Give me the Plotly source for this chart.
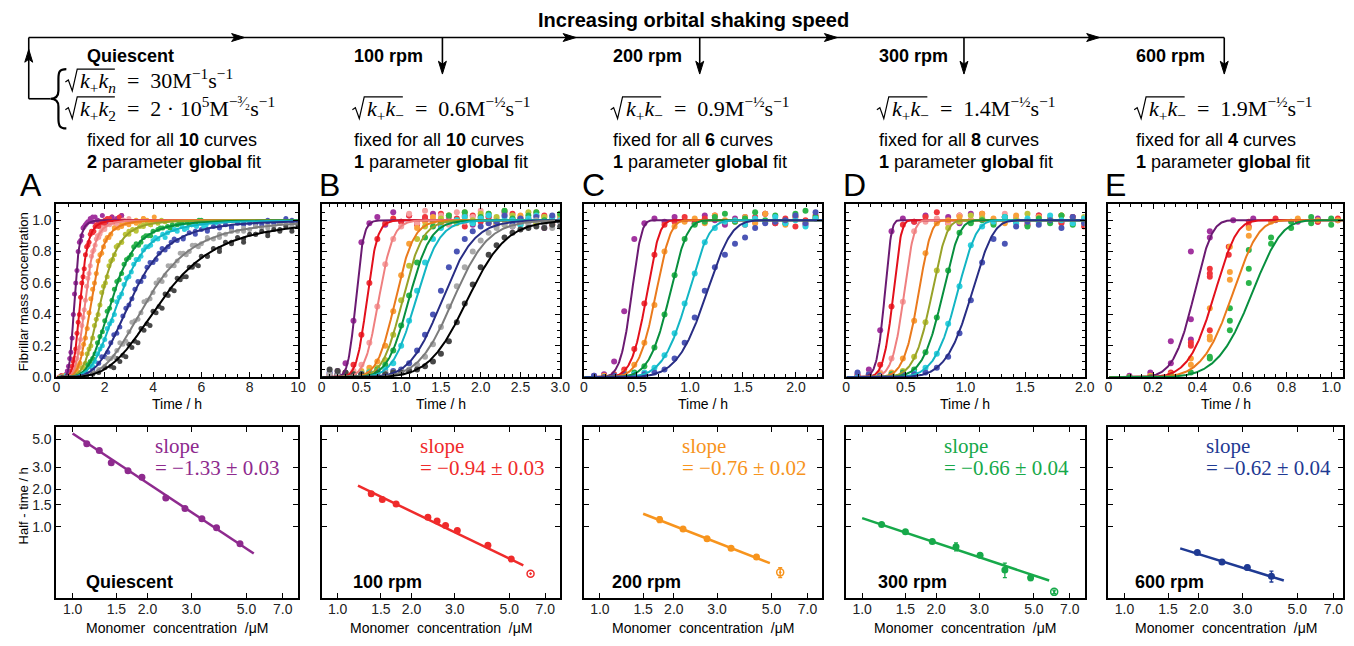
import plotly.graph_objects as go

W, H = 1354, 646
SANS = "Liberation Sans, Arial, sans-serif"
SERIF = "Liberation Serif, DejaVu Serif, serif"

# ================= top row: fitted curves (half-time /h, steepness, shape) =================
A_KEYS = ["purple", "red", "pink", "orange", "olive", "green", "cyan", "blue", "gray", "black"]
A_T50 = [0.75, 1.0, 1.2, 1.45, 1.85, 2.3, 2.6, 3.1, 3.8, 4.4]
A_N = [7.0, 6.5, 6.0, 5.5, 5.0, 4.5, 4.3, 4.1, 3.9, 3.7]
A_NU = 1.0

B_KEYS = ["purple", "red", "pink", "orange", "olive", "green", "cyan", "blue", "gray", "black"]
B_T50 = [0.43, 0.57, 0.72, 0.93, 1.02, 1.10, 1.19, 1.52, 1.66, 1.84]
B_N = [7.7, 7.5, 7.0, 7.0, 7.0, 7.0, 7.0, 6.5, 6.5, 6.5]
B_NU = 0.5

C_KEYS = ["purple", "red", "orange", "green", "cyan", "blue"]
C_T50 = [0.445, 0.585, 0.67, 0.80, 0.97, 1.14]
C_N = [6.6, 6.6, 6.6, 6.6, 6.6, 6.6]
C_NU = 0.05

D_KEYS = ["purple", "red", "pink", "orange", "olive", "green", "cyan", "blue"]
D_T50 = [0.32, 0.39, 0.48, 0.60, 0.71, 0.80, 0.92, 1.04]
D_N = [7.7, 7.7, 7.7, 7.7, 7.7, 7.7, 7.7, 7.7]
D_NU = 0.05

E_KEYS = ["purple", "red", "orange", "green"]
E_T50 = [0.38, 0.47, 0.55, 0.635]
E_N = [6.5, 6.5, 6.5, 6.5]
E_NU = 0.05

# ================= top row: measured points (time /h, fibrillar mass fraction) =================
TIME_01 = [0.1, 0.2, 0.3, 0.4, 0.5, 0.6, 0.7, 0.8, 0.9, 1.0, 1.1, 1.2, 1.3, 1.4, 1.5, 1.6, 1.7, 1.8, 1.9,
           2.0, 2.1, 2.2, 2.3, 2.4, 2.5, 2.6, 2.7, 2.8, 2.9, 3.0]
TIME_015 = [0.15, 0.3, 0.45, 0.6, 0.75, 0.9, 1.05, 1.2, 1.35, 1.5, 1.65, 1.8, 1.95, 2.1, 2.25, 2.4, 2.55,
            2.7, 2.85, 3.0, 3.15, 3.3, 3.45, 3.6, 3.75, 3.9, 4.05, 4.2, 4.35, 4.5]
TIME_02 = [0.2, 0.4, 0.6, 0.8, 1.0, 1.2, 1.4, 1.6, 1.8, 2.0, 2.2, 2.4, 2.6, 2.8, 3.0, 3.2, 3.4, 3.6, 3.8,
           4.0, 4.2, 4.4, 4.6, 4.8, 5.0, 5.2, 5.4, 5.6, 5.8, 6.0, 6.2, 6.4, 6.6]
TIME_025 = [0.25, 0.5, 0.75, 1.0, 1.25, 1.5, 1.75, 2.0, 2.25, 2.5, 2.75, 3.0, 3.25, 3.5, 3.75, 4.0, 4.25,
            4.5, 4.75, 5.0, 5.25, 5.5, 5.75, 6.0, 6.25, 6.5, 6.75, 7.0, 7.25, 7.5, 7.75, 8.0, 8.25, 8.5,
            8.75, 9.0, 9.25, 9.5, 9.75, 10.0]
TIME_095 = [0.095, 0.19, 0.285, 0.38, 0.475, 0.57, 0.665, 0.76, 0.855, 0.95, 1.045, 1.14, 1.235, 1.33,
            1.425, 1.52, 1.615, 1.71, 1.805, 1.9, 1.995, 2.09, 2.185]

A_TIMES = [TIME_01, TIME_01, TIME_01, TIME_015, TIME_015, TIME_02, TIME_02, TIME_025, TIME_025, TIME_025]
A_VALS = [
    [0.00, 0.01, 0.01, 0.02, 0.07, 0.16, 0.40, 0.60, 0.80, 0.87, 0.95, 0.97, 0.99, 1.01, 0.99, 1.02, 1.00, 0.98],
    [0.00, 0.01, 0.00, 0.01, 0.02, 0.04, 0.10, 0.18, 0.35, 0.51, 0.64, 0.78, 0.84, 0.91, 0.92, 0.96, 0.97,
     0.99, 0.98, 1.00, 1.01, 0.99, 1.02, 1.00, 0.99, 1.01, 1.03],
    [0.00, 0.00, 0.01, 0.00, 0.01, 0.02, 0.04, 0.08, 0.16, 0.24, 0.38, 0.49, 0.63, 0.71, 0.80, 0.84, 0.90,
     0.91, 0.95, 0.95, 0.97, 0.97, 0.99, 0.98, 1.00, 0.99, 1.01, 1.00, 0.98, 1.01],
    [0.00, 0.01, 0.00, 0.01, 0.03, 0.07, 0.15, 0.25, 0.41, 0.56, 0.66, 0.78, 0.83, 0.89, 0.91, 0.95, 0.95,
     0.97, 0.98, 0.97, 0.99, 1.00, 0.99, 1.01, 1.00, 0.99, 1.02],
    [0.00, 0.00, 0.01, 0.00, 0.01, 0.03, 0.06, 0.09, 0.18, 0.25, 0.37, 0.46, 0.58, 0.64, 0.74, 0.78, 0.84,
     0.86, 0.91, 0.91, 0.94, 0.93, 0.96, 0.96, 0.98, 0.97, 0.99, 0.98, 1.00, 0.99],
    [0.00, 0.01, 0.00, 0.01, 0.02, 0.05, 0.10, 0.15, 0.26, 0.36, 0.44, 0.56, 0.62, 0.72, 0.76, 0.83, 0.84,
     0.89, 0.90, 0.93, 0.94, 0.95, 0.96, 0.97, 0.97, 0.98, 0.99, 0.97, 0.99, 1.00],
    [0.00, 0.01, 0.00, 0.01, 0.02, 0.03, 0.07, 0.10, 0.18, 0.24, 0.34, 0.40, 0.51, 0.59, 0.64, 0.72, 0.75,
     0.81, 0.83, 0.87, 0.88, 0.91, 0.92, 0.94, 0.93, 0.96, 0.95, 0.97, 0.96, 0.98, 0.97, 0.99, 0.98],
    [0.00, 0.00, 0.01, 0.01, 0.02, 0.05, 0.09, 0.13, 0.22, 0.28, 0.39, 0.46, 0.56, 0.61, 0.70, 0.73, 0.79,
     0.81, 0.86, 0.87, 0.89, 0.92, 0.91, 0.94, 0.94, 0.96, 0.95, 0.97, 0.96, 0.98, 0.97, 0.98, 0.99, 0.97,
     1.00, 0.98, 0.99, 1.01, 0.99],
    [0.00, 0.00, 0.01, 0.00, 0.01, 0.03, 0.05, 0.07, 0.12, 0.17, 0.21, 0.29, 0.36, 0.41, 0.49, 0.54, 0.62,
     0.65, 0.71, 0.74, 0.79, 0.80, 0.84, 0.85, 0.88, 0.88, 0.91, 0.91, 0.93, 0.93, 0.95, 0.94, 0.96, 0.95,
     0.97, 0.96, 0.98, 0.97, 0.99, 0.98],
    [0.00, 0.01, 0.00, 0.01, 0.00, 0.02, 0.03, 0.06, 0.07, 0.12, 0.14, 0.21, 0.23, 0.31, 0.34, 0.42, 0.45,
     0.53, 0.56, 0.63, 0.64, 0.70, 0.72, 0.77, 0.77, 0.82, 0.82, 0.86, 0.85, 0.89, 0.88, 0.91, 0.91, 0.93,
     0.92, 0.94, 0.93, 0.96, 0.95, 0.97],
]
# second replicate of the quiescent runs (read between the first grid points)
A_TIMES2 = [
    [0.45, 0.55, 0.65, 0.75, 0.85, 0.95, 1.05, 1.15, 1.25, 1.35, 1.5, 1.7, 1.9, 2.1, 2.3, 2.5, 2.7],
    [0.65, 0.75, 0.85, 0.95, 1.05, 1.15, 1.25, 1.35, 1.45, 1.55, 1.65, 1.75, 1.85, 2.0, 2.2, 2.4, 2.6],
    [0.75, 0.85, 0.95, 1.05, 1.15, 1.25, 1.35, 1.45, 1.55, 1.65, 1.75, 1.85, 2.0, 2.25, 2.5, 2.75, 3.0],
    [0.825, 0.975, 1.125, 1.275, 1.425, 1.575, 1.725, 1.875, 2.025, 2.175, 2.4, 2.7, 3.0, 3.3, 3.6, 3.9],
    [1.125, 1.275, 1.425, 1.575, 1.725, 1.875, 2.025, 2.175, 2.325, 2.475, 2.7, 3.0, 3.3, 3.6, 3.9, 4.2],
    [1.3, 1.5, 1.7, 1.9, 2.1, 2.3, 2.5, 2.7, 2.9, 3.1, 3.3, 3.5, 3.7, 3.9, 4.3, 4.7, 5.1, 5.5, 5.9],
    [1.5, 1.7, 1.9, 2.1, 2.3, 2.5, 2.7, 2.9, 3.1, 3.3, 3.5, 3.7, 3.9, 4.1, 4.5, 4.9, 5.3, 5.7, 6.1, 6.5],
    [1.875, 2.125, 2.375, 2.625, 2.875, 3.125, 3.375, 3.625, 3.875, 4.125, 4.375, 4.625, 4.875, 5.25, 5.75,
     6.25, 6.75, 7.25, 7.75, 8.25, 8.75, 9.25, 9.75],
    [2.125, 2.375, 2.625, 2.875, 3.125, 3.375, 3.625, 3.875, 4.125, 4.375, 4.625, 4.875, 5.125, 5.375, 5.625,
     5.875, 6.25, 6.75, 7.25, 7.75, 8.25, 8.75, 9.25, 9.75],
    [2.375, 2.625, 2.875, 3.125, 3.375, 3.625, 3.875, 4.125, 4.375, 4.625, 4.875, 5.125, 5.375, 5.625, 5.875,
     6.25, 6.75, 7.25, 7.75, 8.25, 8.75, 9.25, 9.75],
]
A_VALS2 = [
    [0.04, 0.12, 0.25, 0.53, 0.68, 0.86, 0.90, 0.96, 0.98, 0.99, 1.02, 1.00, 1.03, 0.99, 1.02, 1.01, 1.03],
    [0.07, 0.12, 0.28, 0.40, 0.60, 0.69, 0.83, 0.86, 0.93, 0.93, 0.97, 0.96, 0.99, 0.98, 1.01, 0.99, 1.02],
    [0.05, 0.12, 0.19, 0.33, 0.43, 0.58, 0.66, 0.77, 0.81, 0.88, 0.89, 0.93, 0.94, 0.98, 0.97, 1.00, 0.99],
    [0.05, 0.09, 0.21, 0.31, 0.50, 0.60, 0.74, 0.79, 0.87, 0.89, 0.95, 0.96, 0.99, 0.98, 1.01, 0.99],
    [0.06, 0.15, 0.20, 0.33, 0.40, 0.54, 0.60, 0.71, 0.75, 0.83, 0.86, 0.93, 0.94, 0.97, 0.97, 0.99],
    [0.08, 0.12, 0.22, 0.29, 0.42, 0.49, 0.61, 0.66, 0.75, 0.78, 0.85, 0.86, 0.90, 0.90, 0.95, 0.95, 0.98,
     0.97, 1.00],
    [0.07, 0.15, 0.20, 0.31, 0.36, 0.48, 0.53, 0.63, 0.67, 0.75, 0.77, 0.83, 0.84, 0.89, 0.89, 0.94, 0.94,
     0.97, 0.96, 0.99],
    [0.13, 0.16, 0.27, 0.32, 0.44, 0.50, 0.61, 0.64, 0.73, 0.75, 0.82, 0.83, 0.88, 0.88, 0.93, 0.93, 0.96,
     0.95, 0.98, 0.97, 0.99, 0.98, 1.00],
    [0.12, 0.13, 0.22, 0.23, 0.35, 0.37, 0.48, 0.50, 0.60, 0.61, 0.71, 0.71, 0.79, 0.78, 0.84, 0.83, 0.89,
     0.89, 0.93, 0.93, 0.96, 0.95, 0.98, 0.96],
    [0.06, 0.10, 0.13, 0.19, 0.22, 0.30, 0.33, 0.41, 0.44, 0.52, 0.55, 0.62, 0.64, 0.70, 0.71, 0.77, 0.80,
     0.86, 0.86, 0.91, 0.90, 0.94, 0.93],
]

B_VALS = [
    [0.02, 0.04, 0.09, 0.36, 0.86, 0.98, 1.02, 0.97, 1.05, 0.99, 1.03, 0.98, 1.01, 1.04, 0.96, 1.02, 0.99,
     1.03, 0.97, 1.00, 1.02, 0.98, 1.05, 0.96, 1.01, 0.99, 1.03, 0.95, 1.00, 1.02],
    [0.01, 0.02, 0.03, 0.08, 0.27, 0.60, 0.88, 0.98, 1.01, 0.99, 1.03, 0.97, 1.02, 1.00, 1.04, 0.98, 1.01,
     0.96, 1.03, 0.99, 1.02, 0.97, 1.00, 1.04, 0.98, 1.01, 0.99, 1.03, 0.97, 1.00],
    [0.01, 0.02, 0.03, 0.04, 0.08, 0.22, 0.45, 0.72, 0.88, 0.96, 1.04, 0.98, 1.06, 1.00, 1.03, 0.97, 1.05,
     0.99, 1.02, 1.06, 0.98, 1.01, 1.04, 0.97, 1.02, 0.99, 1.03, 1.00, 0.98, 1.02],
    [0.00, 0.01, 0.02, 0.02, 0.04, 0.06, 0.10, 0.20, 0.42, 0.65, 0.85, 0.95, 0.99, 1.02, 0.98, 1.03, 1.00,
     1.05, 0.99, 1.02, 1.04, 0.98, 1.06, 1.01, 1.03, 0.99, 1.05, 1.02, 1.00, 1.04],
    [0.00, 0.01, 0.01, 0.02, 0.03, 0.04, 0.06, 0.11, 0.27, 0.49, 0.71, 0.88, 0.96, 0.99, 1.01, 1.03, 0.98,
     1.02, 1.00, 1.04, 0.99, 1.02, 0.97, 1.03, 1.01, 1.05, 0.98, 1.02, 1.00, 1.03],
    [0.00, 0.01, 0.01, 0.01, 0.02, 0.03, 0.05, 0.08, 0.17, 0.33, 0.52, 0.73, 0.89, 0.96, 0.99, 1.03, 1.00,
     1.05, 0.98, 1.02, 1.04, 0.99, 1.06, 1.01, 0.97, 1.03, 1.05, 1.00, 1.02, 1.04],
    [0.00, 0.00, 0.01, 0.01, 0.02, 0.03, 0.04, 0.05, 0.09, 0.20, 0.36, 0.55, 0.73, 0.88, 0.95, 0.99, 1.00,
     1.02, 0.98, 1.01, 1.03, 0.99, 1.02, 1.00, 0.97, 1.01, 1.03, 0.99, 1.02, 1.00],
    [0.03, 0.02, 0.01, 0.01, 0.02, 0.02, 0.03, 0.03, 0.04, 0.05, 0.09, 0.17, 0.27, 0.40, 0.55, 0.70, 0.80,
     0.88, 0.93, 0.96, 0.98, 0.99, 1.03, 0.97, 1.01, 0.99, 1.02, 0.98, 1.03, 0.99],
    [0.02, 0.01, 0.01, 0.01, 0.01, 0.02, 0.02, 0.03, 0.03, 0.04, 0.05, 0.08, 0.13, 0.21, 0.32, 0.45, 0.58,
     0.70, 0.80, 0.87, 0.92, 0.95, 0.97, 0.96, 0.99, 0.97, 1.00, 0.98, 0.95, 0.99],
    [0.05, 0.04, 0.03, 0.02, 0.02, 0.02, 0.03, 0.02, 0.03, 0.03, 0.04, 0.05, 0.07, 0.10, 0.15, 0.23, 0.35,
     0.47, 0.59, 0.70, 0.78, 0.84, 0.89, 0.92, 0.94, 0.95, 0.96, 0.95, 0.97, 0.96],
]

C_VALS = [
    [0.01, 0.02, 0.10, 0.42, 0.88, 0.98, 1.01, 0.99, 1.02, 1.00, 0.98, 1.03, 1.00, 0.97, 1.01, 1.02, 0.99,
     1.04, 0.98, 1.00, 1.02, 0.97, 1.01],
    [0.00, 0.01, 0.02, 0.05, 0.18, 0.47, 0.78, 0.97, 0.99, 1.02, 0.98, 1.01, 1.03, 0.99, 1.00, 0.97, 1.02,
     1.04, 0.98, 1.01, 0.96, 1.00, 1.03],
    [0.00, 0.01, 0.01, 0.03, 0.08, 0.22, 0.46, 0.80, 0.96, 0.99, 1.01, 0.98, 1.03, 1.00, 0.99, 1.02, 0.98,
     1.04, 1.00, 0.97, 1.02, 0.99, 1.01],
    [0.00, 0.00, 0.01, 0.02, 0.03, 0.07, 0.19, 0.40, 0.65, 0.88, 0.97, 0.99, 1.02, 1.04, 0.99, 1.01, 1.05,
     1.00, 1.03, 0.98, 1.04, 1.06, 1.02],
    [0.00, 0.00, 0.01, 0.01, 0.02, 0.03, 0.06, 0.14, 0.28, 0.47, 0.66, 0.86, 0.95, 0.99, 1.00, 0.97, 1.01,
     0.99, 1.02, 0.98, 1.00, 0.96, 1.01],
    [0.01, 0.00, 0.01, 0.02, 0.01, 0.02, 0.03, 0.05, 0.12, 0.22, 0.38, 0.55, 0.70, 0.78, 0.85, 0.89, 0.95,
     0.98, 0.99, 1.00, 1.03, 0.98, 1.05],
]

D_VALS = [
    [0.02, 0.05, 0.30, 0.93, 1.01, 0.99, 1.03, 1.00, 1.02, 0.98, 1.04, 1.01, 0.99, 1.02, 1.00, 0.97, 1.03,
     1.01, 0.99, 1.02, 1.00],
    [0.01, 0.02, 0.08, 0.45, 0.97, 0.99, 1.02, 1.05, 0.98, 1.03, 1.00, 1.04, 0.99, 1.02, 1.01, 0.97, 1.03,
     1.00, 0.98, 1.02, 0.96],
    [0.00, 0.02, 0.03, 0.12, 0.48, 0.93, 0.99, 1.01, 0.98, 1.03, 1.00, 1.02, 0.99, 1.04, 1.01, 0.98, 1.02,
     1.00, 1.03, 0.99, 1.01],
    [0.00, 0.01, 0.02, 0.03, 0.12, 0.36, 0.79, 0.98, 1.00, 1.02, 0.99, 1.04, 1.01, 0.98, 1.03, 1.00, 1.02,
     0.99, 1.03, 1.01, 0.98],
    [0.00, 0.01, 0.01, 0.02, 0.04, 0.13, 0.35, 0.68, 0.95, 0.99, 1.03, 1.01, 0.98, 1.02, 1.00, 1.04, 0.99,
     1.01, 1.03, 0.98, 1.02],
    [0.00, 0.01, 0.01, 0.02, 0.03, 0.05, 0.16, 0.38, 0.68, 0.92, 0.98, 1.00, 0.97, 1.02, 0.99, 0.96, 1.01,
     0.98, 1.03, 0.97, 1.00],
    [0.00, 0.00, 0.01, 0.01, 0.02, 0.03, 0.06, 0.15, 0.34, 0.58, 0.84, 0.96, 0.99, 1.02, 0.98, 1.01, 0.99,
     1.03, 1.00, 0.98, 1.01],
    [0.03, 0.02, 0.01, 0.01, 0.02, 0.02, 0.03, 0.06, 0.13, 0.28, 0.49, 0.73, 0.88, 0.85, 0.96, 0.99, 0.97,
     1.00, 0.95, 1.02, 0.98],
]

E_TIMES = [
    [0.094, 0.188, 0.28, 0.28, 0.37, 0.37, 0.37, 0.455, 0.455, 0.56, 0.65, 0.75, 0.85, 0.94, 0.94, 1.03],
    [0.094, 0.188, 0.28, 0.37, 0.37, 0.455, 0.455, 0.455, 0.455, 0.54, 0.54, 0.63, 0.63, 0.75, 0.85, 0.94, 1.03],
    [0.094, 0.188, 0.28, 0.37, 0.37, 0.455, 0.455, 0.455, 0.545, 0.545, 0.545, 0.63, 0.63, 0.73, 0.85, 0.94, 1.03],
    [0.094, 0.188, 0.28, 0.37, 0.455, 0.455, 0.545, 0.545, 0.545, 0.63, 0.63, 0.63, 0.73, 0.73, 0.82, 0.82,
     0.91, 0.91, 1.0, 1.0],
]
E_VALS = [
    [0.01, 0.03, 0.23, 0.09, 0.80, 0.37, 0.24, 0.93, 0.89, 1.00, 1.01, 1.00, 0.99, 1.01, 0.99, 1.00],
    [0.00, 0.01, 0.03, 0.22, 0.20, 0.69, 0.64, 0.66, 0.30, 0.78, 0.83, 0.99, 0.96, 1.01, 1.00, 0.99, 1.01],
    [0.00, 0.01, 0.02, 0.12, 0.08, 0.44, 0.26, 0.24, 0.83, 0.67, 0.62, 0.95, 0.90, 0.99, 1.01, 1.00, 1.00],
    [0.00, 0.00, 0.01, 0.03, 0.13, 0.12, 0.44, 0.36, 0.30, 0.69, 0.60, 0.81, 0.89, 0.85, 0.99, 0.95, 1.02,
     0.98, 1.01, 0.97],
]

# ================= bottom row: half-time vs monomer concentration =================
A_CONC = [1.14, 1.28, 1.43, 1.67, 1.90, 2.37, 2.83, 3.31, 3.79, 4.71]
A_HALF = [4.62, 4.09, 3.25, 2.81, 2.49, 1.70, 1.40, 1.16, 0.98, 0.73]
A_FIT_X, A_FIT_Y = [1.0, 5.35], [5.58, 0.61]

B_CONC = [1.37, 1.52, 1.73, 2.33, 2.54, 2.75, 3.07, 4.09, 5.09]
B_HALF = [1.84, 1.65, 1.52, 1.19, 1.11, 1.02, 0.93, 0.71, 0.55]
B_OUT_X, B_OUT_Y = [6.10], [0.42]
B_FIT_X, B_FIT_Y = [1.21, 5.70], [2.13, 0.49]

C_CONC = [1.75, 2.18, 2.73, 3.42, 4.34]
C_HALF = [1.14, 0.96, 0.80, 0.67, 0.57]
C_ERR = [0.06, 0.02, 0.03, 0.02, 0.02]
C_OUT_X, C_OUT_Y, C_OUT_ERR = [5.42], [0.43], [0.04]
C_FIT_X, C_FIT_Y = [1.50, 4.92], [1.27, 0.51]

D_CONC = [1.20, 1.50, 1.93, 2.41, 3.02, 3.81, 4.85]
D_HALF = [1.04, 0.91, 0.76, 0.69, 0.59, 0.45, 0.39]
D_ERR = [0.02, 0.02, 0.02, 0.05, 0.02, 0.06, 0.02]
D_OUT_X, D_OUT_Y, D_OUT_ERR = [6.05], [0.30], [0.01]
D_FIT_X, D_FIT_Y = [1.0, 5.77], [1.17, 0.37]

E_CONC = [1.97, 2.48, 3.14, 3.93]
E_HALF = [0.62, 0.52, 0.47, 0.40]
E_ERR = [0.01, 0.01, 0.02, 0.04]
E_FIT_X, E_FIT_Y = [1.68, 4.41], [0.67, 0.37]

SLOPES = ["−1.33 ± 0.03", "−0.94 ± 0.03", "−0.76 ± 0.02", "−0.66 ± 0.04", "−0.62 ± 0.04"]
SPEEDS = ["Quiescent", "100 rpm", "200 rpm", "300 rpm", "600 rpm"]
RATES = ["0.6", "0.9", "1.4", "1.9"]
N_CURVES = ["10", "10", "6", "8", "4"]

# ================= styling =================
LINE = {"purple": "#6b1a72", "red": "#e3101c", "pink": "#ef7f7f", "orange": "#ea7a1c",
        "olive": "#98a228", "green": "#078f3e", "cyan": "#12b5c4", "blue": "#282d84",
        "gray": "#7c7c7c", "black": "#000000"}
DOT = {"purple": "#a2349f", "red": "#f0363c", "pink": "#f6a0a0", "orange": "#f9a13a",
       "olive": "#bcc43a", "green": "#2bb54b", "cyan": "#2fd0de", "blue": "#4b55b5",
       "gray": "#a9a9a9", "black": "#474747"}
BOTTOM_COL = ["#8e2a8e", "#ef2b2b", "#f7941d", "#17a94a", "#1f3a93"]

COLS = [(53, 297), (321, 562), (586, 827), (851, 1092), (1116, 1353)]
TOP = (207, 382)
BOT = (432, 606)


def px(x):
    return x / W


def py(y):
    return 1 - y / H


fig = go.Figure()
ann = []
shapes = []


def txt(x, y, s, size=16, color="black", family=SANS, xanchor="left", angle=0):
    ann.append(dict(x=px(x), y=py(y), xref="paper", yref="paper", text=s, showarrow=False,
                    font=dict(size=size, color=color, family=family), xanchor=xanchor,
                    yanchor="middle", textangle=angle))


axis_base = dict(showline=True, linecolor="black", linewidth=2, mirror="allticks", ticks="inside",
                 ticklen=5, tickwidth=1.3, tickcolor="black", showgrid=False, zeroline=False,
                 tickfont=dict(family=SANS, size=14, color="#222"))

layout = dict(width=W, height=H, margin=dict(l=0, r=0, t=0, b=0), paper_bgcolor="white",
              plot_bgcolor="white", showlegend=False)

TOP_X = [
    dict(range=[0, 10], tickvals=[0, 2, 4, 6, 8, 10], ticktext=["0", "2", "4", "6", "8", "10"], dtick_m=0.5),
    dict(range=[0, 3.0], tickvals=[0, 0.5, 1, 1.5, 2, 2.5, 3], ticktext=["0", "0.5", "1.0", "1.5", "2.0", "2.5", "3.0"], dtick_m=0.1),
    dict(range=[0, 2.25], tickvals=[0, 0.5, 1, 1.5, 2], ticktext=["0", "0.5", "1.0", "1.5", "2.0"], dtick_m=0.1),
    dict(range=[0, 2.0], tickvals=[0, 0.5, 1, 1.5, 2], ticktext=["0", "0.5", "1.0", "1.5", "2.0"], dtick_m=0.1),
    dict(range=[0, 1.053], tickvals=[0, 0.2, 0.4, 0.6, 0.8, 1.0], ticktext=["0", "0.2", "0.4", "0.6", "0.8", "1.0"], dtick_m=0.05),
]

for i, (c0, c1) in enumerate(COLS):
    n = i + 1
    sx = "" if n == 1 else str(n)
    tx = TOP_X[i]
    layout["xaxis" + sx] = dict(axis_base, domain=[px(c0), px(c1)], anchor="y" + sx, range=tx["range"],
                                tickvals=tx["tickvals"], ticktext=tx["ticktext"], ticklabelstandoff=-4,
                                minor=dict(ticks="inside", ticklen=3, dtick=tx["dtick_m"], tickcolor="black"))
    layout["yaxis" + sx] = dict(axis_base, domain=[py(TOP[1]), py(TOP[0])], anchor="x" + sx, range=[0, 1.1],
                                tickvals=[0, 0.2, 0.4, 0.6, 0.8, 1.0],
                                ticktext=["0.0", "0.2", "0.4", "0.6", "0.8", "1.0"],
                                showticklabels=(i == 0),
                                minor=dict(ticks="inside", ticklen=3, dtick=0.05, tickcolor="black"))
    m = i + 6
    layout["xaxis%d" % m] = dict(axis_base, type="log", domain=[px(c0), px(c1)], anchor="y%d" % m,
                                 range=[-0.065, 0.906 if i < 4 else 0.884], ticklabelstandoff=-3,
                                 tickvals=[1, 1.5, 2, 3, 5, 7],
                                 ticktext=["1.0", "1.5", "2.0", "3.0", "5.0", "7.0"])
    layout["yaxis%d" % m] = dict(axis_base, type="log", domain=[py(BOT[1]), py(BOT[0])], anchor="x%d" % m,
                                 range=[-0.576, 0.802], tickvals=[1, 1.5, 2, 3, 5],
                                 ticktext=["1.0", "1.5", "2.0", "3.0", "5.0"], showticklabels=(i == 0))


def fit_curve(t, t50, nh, nu):
    # generalised sigmoid: nu=1 -> Hill, nu->0 -> Weibull; passes 0.5 at t50
    c = t50 / (((2 ** nu - 1) / nu) ** (1 / nh))
    return 1 - (1 + nu * (t / c) ** nh) ** (-1 / nu)


# ---------------- top row traces ----------------
panels = [
    (A_KEYS, A_T50, A_N, A_NU, A_TIMES, A_VALS, 5),
    (B_KEYS, B_T50, B_N, B_NU, [TIME_01] * 10, B_VALS, 6),
    (C_KEYS, C_T50, C_N, C_NU, [TIME_095] * 6, C_VALS, 6),
    (D_KEYS, D_T50, D_N, D_NU, [TIME_095] * 8, D_VALS, 6),
    (E_KEYS, E_T50, E_N, E_NU, E_TIMES, E_VALS, 6),
]
for i, (keys, t50s, ns, nu, times, vals, msize) in enumerate(panels):
    sx = "" if i == 0 else str(i + 1)
    for key, tt, vv in zip(keys, times, vals):
        k = min(len(tt), len(vv))
        fig.add_trace(go.Scatter(x=tt[:k], y=vv[:k], mode="markers", marker=dict(color=DOT[key], size=msize),
                                 xaxis="x" + sx, yaxis="y" + sx, hoverinfo="skip"))
    if i == 0:
        for key, tt, vv in zip(keys, A_TIMES2, A_VALS2):
            fig.add_trace(go.Scatter(x=tt, y=vv, mode="markers", marker=dict(color=DOT[key], size=msize),
                                     xaxis="x", yaxis="y", hoverinfo="skip"))
    xmax = TOP_X[i]["range"][1]
    ts = [xmax * k / 400 for k in range(1, 401)]
    for key, t50, nh in zip(keys, t50s, ns):
        fig.add_trace(go.Scatter(x=ts, y=[fit_curve(t, t50, nh, nu) for t in ts], mode="lines",
                                 line=dict(color=LINE[key], width=2),
                                 xaxis="x" + sx, yaxis="y" + sx, hoverinfo="skip"))

# ---------------- bottom row traces ----------------
bottom = [
    (A_CONC, A_HALF, None, A_FIT_X, A_FIT_Y, None),
    (B_CONC, B_HALF, None, B_FIT_X, B_FIT_Y, (B_OUT_X, B_OUT_Y, None)),
    (C_CONC, C_HALF, C_ERR, C_FIT_X, C_FIT_Y, (C_OUT_X, C_OUT_Y, C_OUT_ERR)),
    (D_CONC, D_HALF, D_ERR, D_FIT_X, D_FIT_Y, (D_OUT_X, D_OUT_Y, D_OUT_ERR)),
    (E_CONC, E_HALF, E_ERR, E_FIT_X, E_FIT_Y, None),
]
for i, (cx, hy, err, fx, fy, out) in enumerate(bottom):
    m = i + 6
    col = BOTTOM_COL[i]
    fig.add_trace(go.Scatter(x=fx, y=fy, mode="lines", line=dict(color=col, width=2.5),
                             xaxis="x%d" % m, yaxis="y%d" % m))
    fig.add_trace(go.Scatter(x=cx, y=hy, mode="markers", marker=dict(color=col, size=7),
                             error_y=(dict(type="data", array=err, color=col, thickness=1.3, width=2)
                                      if err else None),
                             xaxis="x%d" % m, yaxis="y%d" % m))
    if out:
        ox, oy, oerr = out
        fig.add_trace(go.Scatter(x=ox, y=oy, mode="markers",
                                 marker=dict(color=col, size=7, symbol="circle-open-dot", line=dict(width=1.5)),
                                 error_y=(dict(type="data", array=oerr, color=col, thickness=1.3, width=2)
                                          if oerr else None),
                                 xaxis="x%d" % m, yaxis="y%d" % m))

# ---------------- text ----------------
LETTER_X = [14, 316, 582, 846, 1110]
SLOPE_X = [151, 418, 683, 948, 1213]
LABEL_X = [82, 352, 613, 882, 1142]
for i, (c0, c1) in enumerate(COLS):
    txt(LETTER_X[i], 187, "ABCDE"[i], size=32)
    txt((c0 + c1) / 2, 409, "Time / h", size=14, xanchor="center")
    txt((c0 + c1) / 2, 636, "Monomer  concentration  /μM", size=14, xanchor="center")
    txt(SLOPE_X[i], 452, "slope", size=21, color=BOTTOM_COL[i], family=SERIF)
    txt(SLOPE_X[i], 474, "= " + SLOPES[i], size=21, color=BOTTOM_COL[i], family=SERIF)
    txt(LABEL_X[i] - 1, 589, "<b>%s</b>" % SPEEDS[i], size=18)
    txt(LABEL_X[i], 57, "<b>%s</b>" % SPEEDS[i], size=18)
    txt(LABEL_X[i], 142, "fixed for all <b>%s</b> curves" % N_CURVES[i], size=18)
    txt(LABEL_X[i], 164, "<b>%s</b> parameter <b>global</b> fit" % ("2" if i == 0 else "1"), size=18)

txt(20, 295, "Fibrillar mass concentration", size=13, xanchor="center", angle=-90)
txt(20, 512, "Half - time / h", size=13, xanchor="center", angle=-90)
txt(697, 20, "<b>Increasing orbital shaking speed</b>", size=20, xanchor="center")


def P(x, y):
    return "%.5f,%.5f" % (px(x), py(y))


def equation(x, y, radicand, rad_w, rest):
    # radical sign with vinculum, then radicand and the rest as text
    shapes.append(dict(type="path", xref="paper", yref="paper",
                       path="M%s L%s L%s L%s L%s" % (P(x, y + 1), P(x + 3, y - 1), P(x + 7, y + 10),
                                                     P(x + 12, y - 12), P(x + 14 + rad_w, y - 12)),
                       line=dict(color="black", width=1.2)))
    txt(x + 13, y, radicand + rest, size=22, family=SERIF)


SP = "\u2002"
equation(62, 82, "<i>k</i><sub>+</sub><i>k</i><sub><i>n</i></sub>", 36,
         SP + "=" + SP + "30M<sup>−1</sup>s<sup>−1</sup>")
equation(62, 110, "<i>k</i><sub>+</sub><i>k</i><sub>2</sub>", 36,
         SP + "=" + SP + "2 · 10<sup>5</sup>M<sup>−³⁄₂</sup>s<sup>−1</sup>")
for j, r in enumerate(RATES):
    equation(LABEL_X[j + 1], 110, "<i>k</i><sub>+</sub><i>k</i><sub>−</sub>", 37,
             SP + "=" + SP + "%sM<sup>−½</sup>s<sup>−1</sup>" % r)

# ---------------- header arrows ----------------
LW = 1.6
shapes.append(dict(type="line", xref="paper", yref="paper", x0=px(25), x1=px(1233), y0=py(38), y1=py(38),
                   line=dict(color="black", width=LW)))
shapes.append(dict(type="line", xref="paper", yref="paper", x0=px(25), x1=px(25), y0=py(38), y1=py(100),
                   line=dict(color="black", width=LW)))
shapes.append(dict(type="line", xref="paper", yref="paper", x0=px(25), x1=px(47), y0=py(100), y1=py(100),
                   line=dict(color="black", width=LW)))


def head_right(x, y):
    return "M%s L%s L%s L%s Z" % (P(x, y), P(x - 13, y - 4), P(x - 10, y), P(x - 13, y + 4))


def head_down(x, y):
    return "M%s L%s L%s L%s Z" % (P(x, y), P(x - 4, y - 13), P(x, y - 10), P(x + 4, y - 13))


for hx in [243, 578, 842, 1107]:
    shapes.append(dict(type="path", xref="paper", yref="paper", path=head_right(hx, 38),
                       fillcolor="black", line=dict(color="black", width=1)))
for dx in [443, 703, 970, 1233]:
    shapes.append(dict(type="line", xref="paper", yref="paper", x0=px(dx), x1=px(dx), y0=py(38), y1=py(72),
                       line=dict(color="black", width=LW)))
    shapes.append(dict(type="path", xref="paper", yref="paper", path=head_down(dx, 75),
                       fillcolor="black", line=dict(color="black", width=1)))
shapes.append(dict(type="path", xref="paper", yref="paper",
                   path="M%s L%s L%s L%s Z" % (P(25, 50), P(21, 63), P(25, 60), P(29, 63)),
                   fillcolor="black", line=dict(color="black", width=1)))
brace = ("M%s C%s %s %s L%s C%s %s %s C%s %s %s L%s C%s %s %s" % (
    P(63, 70), P(56, 70), P(55, 73), P(55, 80), P(55, 92), P(55, 97), P(52, 100), P(47, 100),
    P(52, 100), P(55, 103), P(55, 108), P(55, 120), P(55, 127), P(56, 130), P(63, 130)))
shapes.append(dict(type="path", xref="paper", yref="paper", path=brace, line=dict(color="black", width=2.2)))

layout["annotations"] = ann
layout["shapes"] = shapes
fig.update_layout(**layout)
fig.write_html("out.html", config={"displayModeBar": False},
               post_script="var d=document.getElementById('{plot_id}');"
                           "d.style.position='fixed';d.style.left='0px';d.style.top='0px';"
                           "document.documentElement.style.overflow='hidden';"
                           "document.body.style.overflow='hidden';document.body.style.margin='0';")
